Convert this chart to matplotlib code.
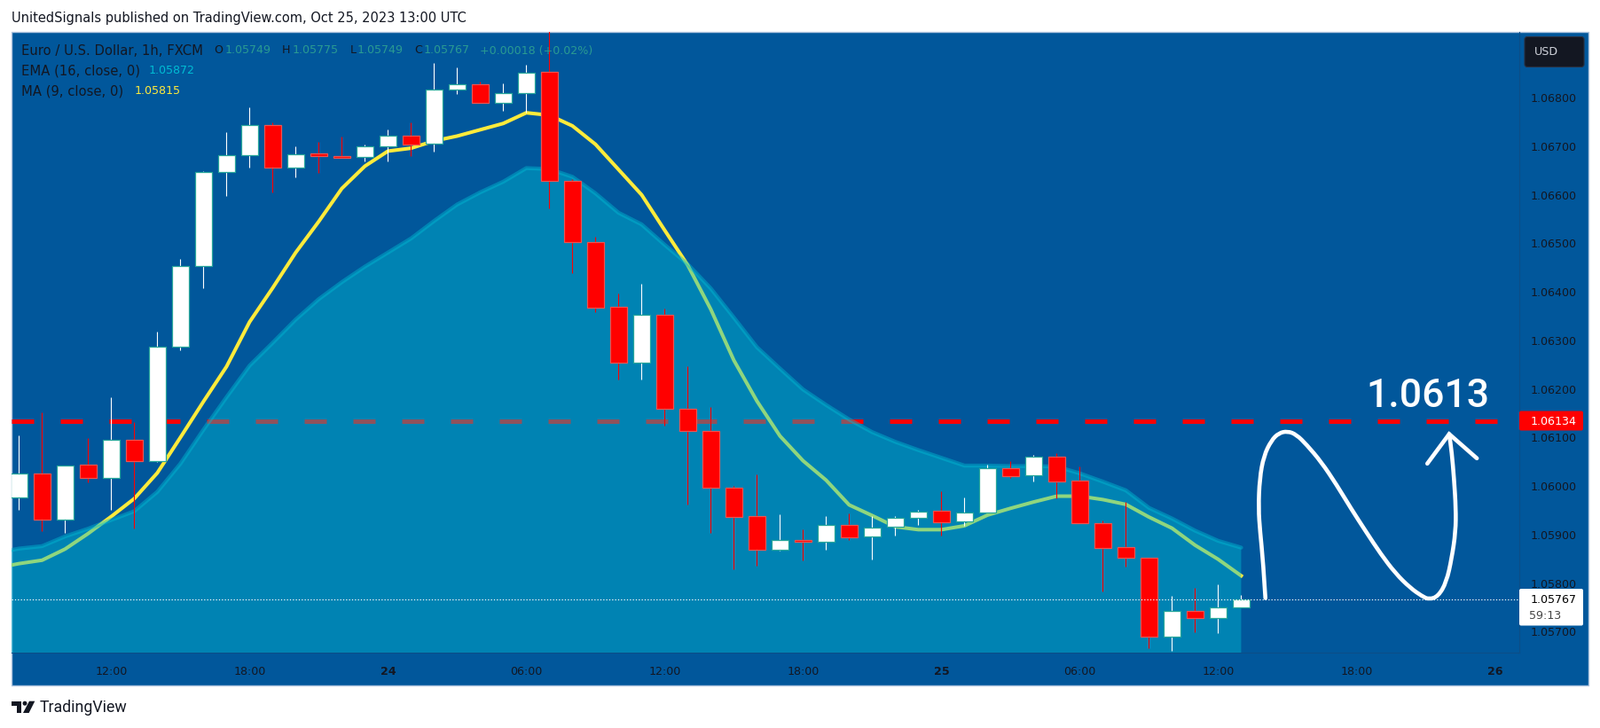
import matplotlib
matplotlib.use("Agg")
import matplotlib.pyplot as plt
from matplotlib.path import Path
from matplotlib.patches import Rectangle, FancyBboxPatch, Polygon, Circle, PathPatch

# ---------- data ----------
bar_index = list(range(54))
opens = [1.05976,1.06026,1.05931,1.06044,1.06016,1.06096,1.06051,1.06287,1.06453,1.06647,
         1.06681,1.06743,1.06656,1.06685,1.06680,1.06678,1.06700,1.06721,1.06705,1.06816,
         1.06827,1.06789,1.06809,1.06853,1.06628,1.06502,1.06369,1.06254,1.06352,1.06159,
         1.06113,1.05996,1.05938,1.05868,1.05889,1.05885,1.05920,1.05896,1.05916,1.05934,
         1.05949,1.05927,1.05945,1.06037,1.06022,1.06060,1.06011,1.05923,1.05874,1.05852,
         1.05689,1.05742,1.05728,1.05749]
closes = [1.06026,1.05931,1.06043,1.06016,1.06096,1.06051,1.06287,1.06453,1.06647,1.06681,
          1.06743,1.06656,1.06684,1.06679,1.06676,1.06699,1.06721,1.06704,1.06816,1.06827,
          1.06789,1.06809,1.06852,1.06628,1.06502,1.06368,1.06254,1.06352,1.06159,1.06113,
          1.05996,1.05937,1.05868,1.05888,1.05885,1.05919,1.05895,1.05915,1.05934,1.05948,
          1.05926,1.05945,1.06036,1.06021,1.06060,1.06010,1.05923,1.05873,1.05852,1.05689,
          1.05742,1.05728,1.05749,1.05767]
highs = [1.06105,1.06151,1.06043,1.06099,1.06183,1.06132,1.06318,1.06468,1.06648,1.06729,
         1.06781,1.06749,1.06700,1.06709,1.06720,1.06703,1.06735,1.06750,1.06872,1.06863,
         1.06834,1.06830,1.06868,1.06945,1.06632,1.06514,1.06397,1.06417,1.06366,1.06247,
         1.06163,1.06001,1.06024,1.05942,1.05910,1.05938,1.05943,1.05938,1.05938,1.05951,
         1.05990,1.05977,1.06044,1.06052,1.06064,1.06067,1.06041,1.05928,1.05968,1.05852,
         1.05774,1.05790,1.05798,1.05775]
lows = [1.05950,1.05907,1.05904,1.06008,1.05951,1.05912,1.06049,1.06280,1.06408,1.06597,
        1.06656,1.06605,1.06636,1.06645,1.06676,1.06669,1.06669,1.06679,1.06689,1.06808,
        1.06789,1.06773,1.06769,1.06572,1.06439,1.06359,1.06219,1.06220,1.06124,1.05962,
        1.05903,1.05829,1.05836,1.05866,1.05846,1.05869,1.05889,1.05848,1.05897,1.05919,
        1.05897,1.05918,1.05945,1.06017,1.06010,1.05974,1.05923,1.05783,1.05834,1.05666,
        1.05660,1.05698,1.05696,1.05749]

line_index = list(range(-1, 54))
ma_values = [1.05831,1.05840,1.05847,1.05870,1.05902,1.05937,1.05974,1.06027,1.06100,1.06174,
             1.06246,1.06338,1.06408,1.06481,1.06545,1.06613,1.06659,1.06690,1.06696,1.06711,
             1.06721,1.06734,1.06747,1.06769,1.06764,1.06742,1.06704,1.06652,1.06600,1.06527,
             1.06455,1.06364,1.06259,1.06175,1.06103,1.06052,1.06012,1.05961,1.05939,1.05916,
             1.05910,1.05910,1.05918,1.05940,1.05954,1.05967,1.05979,1.05979,1.05972,1.05962,
             1.05936,1.05913,1.05878,1.05849,1.05815]
ema_values = [1.05862,1.05871,1.05876,1.05896,1.05912,1.05930,1.05948,1.05988,1.06046,1.06116,
              1.06183,1.06248,1.06295,1.06343,1.06385,1.06420,1.06452,1.06481,1.06510,1.06546,
              1.06580,1.06605,1.06627,1.06655,1.06653,1.06637,1.06603,1.06563,1.06539,1.06497,
              1.06457,1.06407,1.06347,1.06286,1.06242,1.06199,1.06167,1.06137,1.06111,1.06091,
              1.06074,1.06058,1.06042,1.06042,1.06041,1.06041,1.06040,1.06026,1.06009,1.05991,
              1.05955,1.05933,1.05908,1.05887,1.05873]

level_price = 1.06134
last_price = 1.05767
x_tick_pos = [4, 10, 16, 22, 28, 34, 40, 46, 52, 58, 64]
x_tick_labels = ["12:00","18:00","24","06:00","12:00","18:00","25","06:00","12:00","18:00","26"]
bold_ticks = {"24", "25", "26"}
y_ticks = [1.057,1.058,1.059,1.060,1.061,1.062,1.063,1.064,1.065,1.066,1.067,1.068]

# hand-drawn path (bar index, price)
path_x = [54.05,53.95,53.82,53.75,53.80,53.98,54.31,54.63,55.01,55.39,55.84,56.48,57.13,
          57.77,58.41,59.05,59.69,60.33,60.84,61.15,61.55,61.90,62.13,62.30,62.31,62.23,62.13,62.02]
path_y = [1.05769,1.05845,1.05906,1.05954,1.06015,1.06062,1.06094,1.06109,1.06113,1.06106,
          1.06085,1.06049,1.06003,1.05953,1.05906,1.05860,1.05820,1.05790,1.05773,1.05766,
          1.05773,1.05802,1.05851,1.05906,1.05954,1.06015,1.06070,1.06107]
head_x = [61.07, 62.02, 63.22]
head_y = [1.06046, 1.06107, 1.06057]

# ---------- style ----------
W, H = 1804, 821
BG = "#01579B"
TXT = "#131722"
plt.rcParams["font.family"] = "DejaVu Sans"
fs = 9.1
fs_name = 10.6

fig = plt.figure(figsize=(W / 100, H / 100), dpi=100, facecolor="white")

def pos(l, t, r, b):
    return [l / W, 1 - b / H, (r - l) / W, (b - t) / H]

base = fig.add_axes([0, 0, 1, 1], zorder=0)
base.set_xlim(0, W); base.set_ylim(H, 0); base.axis("off")
base.add_patch(Rectangle((12.5, 36), 1778.5, 737, facecolor=BG, edgecolor="#AFC4DE", lw=1.0))

ax = fig.add_axes(pos(13, 36, 1713, 736), zorder=1)
ax.patch.set_alpha(0)
ax.set_xlim(-0.323, 65.06)
ax.set_ylim(1.056566, 1.069356)

# under-area layers
ax.plot([-0.323, 64.09], [level_price] * 2, color="#FF0000", lw=3.6, dashes=(5, 6),
        dash_capstyle="butt", zorder=1)
ax.plot(line_index, ma_values, color="#FFEB3B", lw=2.9, zorder=2, solid_joinstyle="round")

# area and its line
ax.fill_between(line_index, ema_values, 1.05, color="#00BCD4", alpha=0.44, lw=0, zorder=3)
ax.plot(line_index, ema_values, color="#00BCD4", alpha=0.44, lw=3.2, zorder=3,
        solid_capstyle="round")

# candles
for i, o, h, l, c in zip(bar_index, opens, highs, lows, closes):
    up = c >= o
    wick = "#FFFFFF" if up else "#FF0000"
    face = "#FFFFFF" if up else "#FF0000"
    edge = "#26A69A" if up else "#EF5350"
    ax.vlines(i, l, h, color=wick, lw=0.8, zorder=4)
    ax.bar(i, abs(c - o), bottom=min(o, c), width=19 / 26, color=face, edgecolor=edge,
           linewidth=0.9, zorder=5)

ax.axhline(last_price, color="white", lw=0.8, dashes=(1.2, 1.8), zorder=6)

# drawing: smooth quadratic spline through the read control points
pts = list(zip(path_x, path_y))
verts = [pts[0]]
codes = [Path.MOVETO]
for a, b in zip(pts[1:-1], pts[2:]):
    verts += [a, ((a[0] + b[0]) / 2, (a[1] + b[1]) / 2)]
    codes += [Path.CURVE3, Path.CURVE3]
verts.append(pts[-1])
codes.append(Path.LINETO)
ax.add_patch(PathPatch(Path(verts, codes), facecolor="none", edgecolor="white", lw=3.3,
                       capstyle="round", joinstyle="round", zorder=7))
ax.plot(head_x, head_y, color="white", lw=3.3, zorder=7, solid_capstyle="round",
        solid_joinstyle="miter")
ax.text(61.11, 1.06185, "1.0613", color="white", fontsize=32, ha="center", va="center",
        fontfamily="Roboto", fontweight="medium", zorder=8)

# axes
ax.set_xticks(x_tick_pos)
ax.set_xticklabels(x_tick_labels)
ax.set_yticks(y_ticks)
ax.set_yticklabels([f"{v:.5f}" for v in y_ticks])
ax.yaxis.tick_right()
ax.tick_params(axis="y", length=0, pad=9, labelsize=fs, labelcolor=TXT)
ax.tick_params(axis="x", length=0, pad=10.5, labelsize=fs, labelcolor=TXT)
for lab in ax.get_xticklabels():
    if lab.get_text() in bold_ticks:
        lab.set_fontweight("bold")
for name, sp in ax.spines.items():
    sp.set_visible(name in ("bottom", "right"))
    sp.set_color("#0C4E87")
    sp.set_linewidth(0.8)

# overlay
ov = fig.add_axes([0, 0, 1, 1], zorder=5)
ov.set_xlim(0, W); ov.set_ylim(H, 0); ov.axis("off")
ov.patch.set_alpha(0)

ov.text(13, 21, "UnitedSignals published on TradingView.com, Oct 25, 2023 13:00 UTC",
        color=TXT, fontsize=10.5, va="center")

row1 = 57; row2 = 79.7; row3 = 102.7
GREEN = "#2A9B92"
ov.text(24, row1, "Euro / U.S. Dollar, 1h, FXCM", color=TXT, fontsize=fs_name, va="center")
for x, s, col in [(241, "O", TXT), (254, "1.05749", GREEN),
                  (318, "H", TXT), (330, "1.05775", GREEN), (394.6, "L", TXT), (403, "1.05749", GREEN),
                  (467, "C", TXT), (478, "1.05767", GREEN), (540.6, "+0.00018 (+0.02%)", GREEN)]:
    ov.text(x, row1, s, color=col, fontsize=fs, va="center")
ov.text(24, row2, "EMA (16, close, 0)", color=TXT, fontsize=fs_name, va="center")
ov.text(168, row2, "1.05872", color="#00BCD4", fontsize=fs, va="center")
ov.text(24, row3, "MA (9, close, 0)", color=TXT, fontsize=fs_name, va="center")
ov.text(152, row3, "1.05815", color="#FFEB3B", fontsize=fs, va="center")

# USD button
ov.add_patch(FancyBboxPatch((1719, 41.5), 67, 34, boxstyle="round,pad=0,rounding_size=3",
                            facecolor=TXT, edgecolor="#2A3040", lw=0.8))
ov.text(1730, 58, "USD", color="#D1D4DC", fontsize=fs, va="center")

# price labels
ov.add_patch(FancyBboxPatch((1713, 463.5), 72, 22, boxstyle="round,pad=0,rounding_size=2",
                            facecolor="#FF0000", edgecolor="none"))
ov.text(1725.7, 475.5, "1.06134", color="white", fontsize=fs, va="center")
ov.add_patch(FancyBboxPatch((1713, 664), 72, 41.5, boxstyle="round,pad=0,rounding_size=2",
                            facecolor="white", edgecolor="none"))
ov.text(1725.7, 676.5, "1.05767", color="#000000", fontsize=fs, va="center")
ov.text(1724, 695, "59:13", color="#444444", fontsize=fs, va="center")

# logo
ov.add_patch(Polygon([(13.4, 790.7), (24, 790.7), (24, 804), (18.6, 804), (18.6, 795.6), (13.4, 795.6)],
                     facecolor=TXT, edgecolor="none"))
ov.add_patch(Circle((28, 793.2), 2.5, facecolor=TXT, edgecolor="none"))
ov.add_patch(Polygon([(33, 790.7), (39.3, 790.7), (32.6, 804), (26, 804)], facecolor=TXT, edgecolor="none"))
ov.text(44.6, 798, "TradingView", color=TXT, fontsize=12.8, fontfamily="Roboto", va="center")

fig.savefig("out.png", dpi=100, facecolor="white")
